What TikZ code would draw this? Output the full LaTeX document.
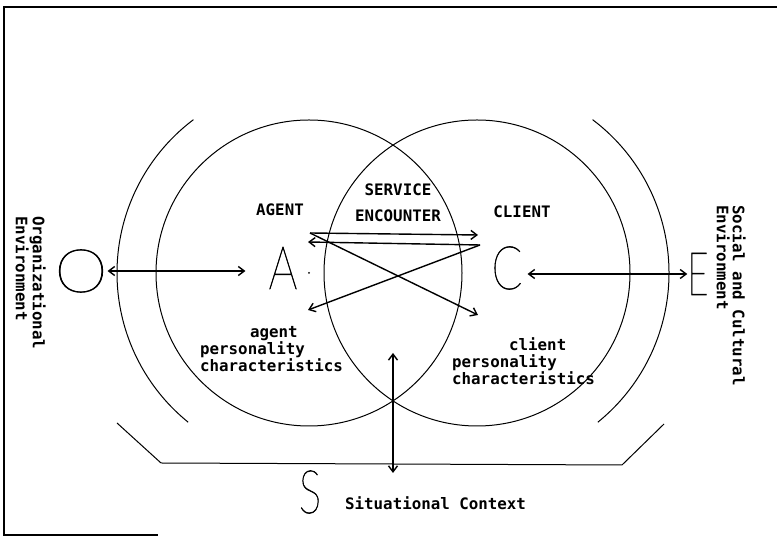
\documentclass[tikz,border=0pt]{standalone}
\usepackage{fontspec}
\setmonofont{DejaVu Sans Mono}
\newfontfamily\thinfont{Lato Thin}[RawFeature={embolden=1.2}]
\usetikzlibrary{arrows.meta}

\begin{document}
\begin{tikzpicture}[
    x=1pt, y=1pt,
    >={Straight Barb[length=6pt,width=9pt]},
    every node/.style={font=\ttfamily\bfseries\fontsize{15.8}{17}\selectfont, inner sep=0pt},
    letter/.style={font=\thinfont\fontsize{60}{60}\selectfont},
    ring/.style={line width=1pt},
    link/.style={<->, line width=1.4pt}
]
\useasboundingbox (0,0) rectangle (777,540);

% Frame
\draw[line width=1.6pt] (777,533) -- (4,533) -- (4,5) -- (158,5);

% Agent and client circles
\draw[ring] (309,267) circle (153pt);
\draw[ring] (477,267) circle (153pt);
\fill (309,267) circle (1pt);

% Environment arcs
\draw[ring] (309,267) ++(127:192pt) arc[start angle=127, end angle=231, radius=192pt];
\draw[ring] (477,267) ++(53:192pt) arc[start angle=53, end angle=-51, radius=192pt];

% Situational base
\draw[ring] (117,117) -- (161,77) -- (622,75) -- (664,116);

% Big letters
\node[letter] (O) at (81,269) {\scalebox{1.12}[1]{O}};
\node[letter] (A) at (283,272) {\scalebox{0.75}[1]{A}};
\node[letter] (C) at (507,272) {\scalebox{0.75}[1]{C}};
\node[letter] (E) at (698,266) {\scalebox{0.6}[1]{E}};
\node[letter] (S) at (310,48) {\scalebox{0.7}[1]{S}};

% Environment links
\draw[link, shorten >=23pt] (O.east) -- (O.east -| A.west);
\draw[link, shorten <=5pt] (C.east |- E.west) -- (E.west);

% Exchanges in the encounter
\coordinate (p1) at (310,307);
\coordinate (p2) at (480,295);
\coordinate (r1) at (478,305);
\coordinate (r2) at (478,225);
\coordinate (l1) at (308,298);
\coordinate (l2) at (308,230);
\draw[->, line width=1.4pt] (p1) -- (r1);
\draw[->, line width=1.4pt] (p1) -- (r2);
\draw[->, line width=1.4pt] (p2) -- (l1);
\draw[->, line width=1.4pt] (p2) -- (l2);

% Situational link
\coordinate (sittop) at (393,187);
\coordinate (sitbot) at (393,67);
\draw[link] (sittop) -- (sitbot);

% Labels
\node (agentlbl) at (280,330) {AGENT};
\node (clientlbl) at (522,328) {CLIENT};
\node[align=center, font=\ttfamily\bfseries\fontsize{15.8}{26}\selectfont] (service) at (398,337) {SERVICE\\ENCOUNTER};
\node[align=left, anchor=north west] (agentchar) at (200,214) {\hspace*{50pt}agent\\personality\\characteristics};
\node[align=left, anchor=north west] (clientchar) at (452,203) {\hspace*{57pt}client\\personality\\characteristics};
\node[align=left, anchor=north west, rotate=-90, font=\ttfamily\bfseries\fontsize{15.8}{16}\selectfont] (org) at (46,324) {Organizational\\Environment};
\node[align=left, anchor=north west, rotate=-90, font=\ttfamily\bfseries\fontsize{15.8}{16}\selectfont] (soc) at (746,335) {Social and Cultural\\Environment};
\node[anchor=west] (sit) at (345,37) {Situational Context};

\end{tikzpicture}
\end{document}
